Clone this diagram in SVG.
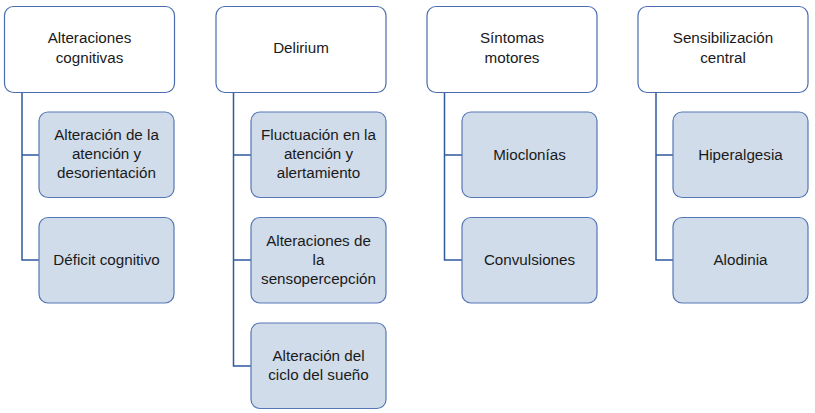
<svg xmlns="http://www.w3.org/2000/svg" width="815" height="413" viewBox="0 0 815 413">
<style>
.h{fill:#ffffff;stroke:#4a6cae;stroke-width:1.2}
.c{fill:#d0dcea;stroke:#5677b5;stroke-width:1.2}
.l{fill:none;stroke:#2f5aa0;stroke-width:1.5}
text{font-family:"Liberation Sans",Arial,sans-serif;font-size:15.2px;fill:#1a1a1a;text-anchor:middle}
</style>
<rect width="815" height="413" fill="#ffffff"/>
<g id="connectors">
<path class="l" d="M22,92V260H39M22,155H39"/>
<path class="l" d="M233.5,92V366H251M233.5,155H251M233.5,260H251"/>
<path class="l" d="M444.5,92V260H462M444.5,155H462"/>
<path class="l" d="M656,92V260H673M656,155H673"/>
</g>
<g id="h1"><rect class="h" x="4.5" y="6.5" width="170" height="86" rx="9"/><text x="89.5" y="43">Alteraciones</text><text x="89.5" y="63">cognitivas</text></g>
<g id="h2"><rect class="h" x="216" y="6.5" width="170" height="86" rx="9"/><text x="301" y="53">Delirium</text></g>
<g id="h3"><rect class="h" x="427" y="6.5" width="170" height="86" rx="9"/><text x="512" y="43">Síntomas</text><text x="512" y="63">motores</text></g>
<g id="h4"><rect class="h" x="638" y="6.5" width="170" height="86" rx="9"/><text x="723" y="43">Sensibilización</text><text x="723" y="63">central</text></g>
<g id="c11"><rect class="c" x="39" y="112" width="135" height="85.5" rx="9"/><text x="106.5" y="140">Alteración de la</text><text x="106.5" y="159">atención y</text><text x="106.5" y="178">desorientación</text></g>
<g id="c12"><rect class="c" x="39" y="217.5" width="135" height="85.5" rx="9"/><text x="106.5" y="265">Déficit cognitivo</text></g>
<g id="c21"><rect class="c" x="251" y="112" width="135" height="85.5" rx="9"/><text x="318.5" y="140">Fluctuación en la</text><text x="318.5" y="159">atención y</text><text x="318.5" y="178">alertamiento</text></g>
<g id="c22"><rect class="c" x="251" y="217.5" width="135" height="85.5" rx="9"/><text x="318.5" y="246">Alteraciones de</text><text x="318.5" y="265">la</text><text x="318.5" y="284">sensopercepción</text></g>
<g id="c23"><rect class="c" x="251" y="323" width="135" height="85.5" rx="9"/><text x="318.5" y="361">Alteración del</text><text x="318.5" y="380">ciclo del sueño</text></g>
<g id="c31"><rect class="c" x="462" y="112" width="135" height="85.5" rx="9"/><text x="529.5" y="160">Mioclonías</text></g>
<g id="c32"><rect class="c" x="462" y="217.5" width="135" height="85.5" rx="9"/><text x="529.5" y="265">Convulsiones</text></g>
<g id="c41"><rect class="c" x="673" y="112" width="135" height="85.5" rx="9"/><text x="740.5" y="160">Hiperalgesia</text></g>
<g id="c42"><rect class="c" x="673" y="217.5" width="135" height="85.5" rx="9"/><text x="740.5" y="265">Alodinia</text></g>
</svg>
